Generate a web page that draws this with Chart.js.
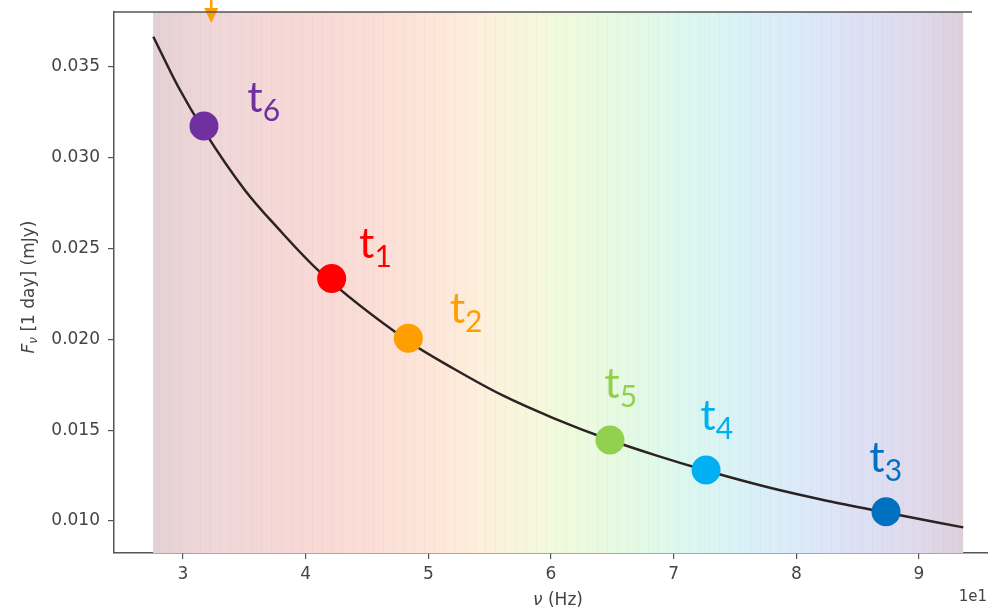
<!DOCTYPE html>
<html>
<head>
<meta charset="utf-8">
<script src="https://cdn.jsdelivr.net/npm/chart.js@4.4.1/dist/chart.umd.min.js"></script>
<style>
    html, body { margin: 0; padding: 0; background: #fff; overflow: hidden; }
    #wrap { width: 988px; height: 611px; }
</style>
</head>
<body>
<div id="wrap"><canvas id="fluxChart" width="988" height="611"></canvas></div>
<script>
// Eğri (okunan noktalar, x birimi 1e1 Hz)
const curveX = [2.758, 2.962, 3.171, 3.505, 3.777, 4.103, 4.837, 5.204, 5.611, 6.019, 6.481, 6.862, 7.264, 7.785, 8.247, 8.731, 9.361];
const curveY = [0.03667, 0.0339, 0.0315, 0.02822, 0.0261, 0.0238, 0.0199, 0.0184, 0.0169, 0.01567, 0.01446, 0.0136, 0.01278, 0.01183, 0.01112, 0.01047, 0.00965];

// Zaman noktaları
const markerNames = ['6', '1', '2', '5', '4', '3'];
const markerX = [3.171, 4.212, 4.837, 6.481, 7.264, 8.731];
const markerY = [0.03175, 0.02336, 0.02006, 0.01446, 0.01281, 0.01051];
const markerColors = ['#7030a0', '#ff0000', '#ff9e00', '#92d050', '#00b0f0', '#0070c0'];

// Eksen değerleri
const xTicks = [3, 4, 5, 6, 7, 8, 9];
const yTicks = [0.010, 0.015, 0.020, 0.025, 0.030, 0.035];

// Gökkuşağı bant renkleri
const bandX = [2.756, 3.14, 4.2, 5.01, 5.42, 5.75, 6.07, 6.56, 7.05, 7.54, 8.03, 8.52, 9.0, 9.36];
const bandColors = ['#e4d0d4', '#eed6d8', '#f9dad6', '#fde5d8', '#fdf0dc', '#f8f6dc', '#f0fadc', '#e6fae2', '#dcf8ee', '#d8f2f6', '#dceafa', '#dde0f4', '#e0daec', '#dcd0da'];

const arrowX = 3.23;

// etiket kaymaları (piksel)
const labelOffsets = [[51, -29], [35, -35], [49, -30], [2, -57], [2, -55], [-9, -55]];

const axisColor = '#555';
const textColor = '#444';

const bandPlugin = {
    id: 'band',
    beforeDatasetsDraw(chart) {
        const {ctx, chartArea, scales} = chart;
        const x0 = scales.x.getPixelForValue(bandX[0]);
        const x1 = scales.x.getPixelForValue(bandX[bandX.length - 1]);
        const grad = ctx.createLinearGradient(x0, 0, x1, 0);
        bandX.forEach((v, i) => {
            grad.addColorStop((v - bandX[0]) / (bandX[bandX.length - 1] - bandX[0]), bandColors[i]);
        });
        ctx.save();
        ctx.fillStyle = grad;
        ctx.fillRect(x0, chartArea.top, x1 - x0, chartArea.bottom - chartArea.top);
        // ince dikey çizgiler
        ctx.strokeStyle = 'rgba(120, 90, 110, 0.045)';
        ctx.lineWidth = 1;
        for (let v = bandX[0] + 0.05; v < bandX[bandX.length - 1]; v += 0.083) {
            const px = Math.round(scales.x.getPixelForValue(v)) + 0.5;
            ctx.beginPath();
            ctx.moveTo(px, chartArea.top);
            ctx.lineTo(px, chartArea.bottom);
            ctx.stroke();
        }
        ctx.restore();
    }
};

const labelPlugin = {
    id: 'labels',
    afterDatasetsDraw(chart) {
        const {ctx, chartArea, scales} = chart;
        ctx.save();
        markerNames.forEach((n, i) => {
            const px = scales.x.getPixelForValue(markerX[i]) + labelOffsets[i][0];
            const py = scales.y.getPixelForValue(markerY[i]) + labelOffsets[i][1];
            ctx.fillStyle = markerColors[i];
            ctx.textBaseline = 'alphabetic';
            ctx.textAlign = 'center';
            ctx.font = '43px Lato';
            ctx.fillText('t', px, py + 15);
            const tw = ctx.measureText('t').width;
            ctx.textAlign = 'left';
            ctx.font = '30px Lato';
            ctx.fillText(n, px + tw / 2, py + 24);
        });

        // üstteki turuncu ok
        const ax = scales.x.getPixelForValue(arrowX);
        ctx.strokeStyle = '#ff9e00';
        ctx.fillStyle = '#ff9e00';
        ctx.lineWidth = 2.5;
        ctx.beginPath();
        ctx.moveTo(ax, 0);
        ctx.lineTo(ax, chartArea.top);
        ctx.stroke();
        ctx.beginPath();
        ctx.moveTo(ax - 7, chartArea.top - 4);
        ctx.lineTo(ax + 7, chartArea.top - 4);
        ctx.lineTo(ax, chartArea.top + 11);
        ctx.closePath();
        ctx.fill();

        // üst çerçeve
        ctx.strokeStyle = axisColor;
        ctx.lineWidth = 1.5;
        ctx.beginPath();
        ctx.moveTo(chartArea.left, chartArea.top);
        ctx.lineTo(chartArea.right - 16, chartArea.top);
        ctx.stroke();

        // ofset metni
        ctx.fillStyle = textColor;
        ctx.font = '15px "DejaVu Sans"';
        ctx.textAlign = 'right';
        ctx.textBaseline = 'middle';
        ctx.fillText('1e1', chart.width - 1, 597);

        // x ekseni başlığı
        ctx.textAlign = 'left';
        const xParts = [['italic 17px "DejaVu Sans"', 'ν'], ['17px "DejaVu Sans"', ' (Hz)']];
        let xw = 0;
        xParts.forEach(p => { ctx.font = p[0]; xw += ctx.measureText(p[1]).width; });
        let xx = 558 - xw / 2;
        xParts.forEach(p => {
            ctx.font = p[0];
            ctx.fillText(p[1], xx, 601);
            xx += ctx.measureText(p[1]).width;
        });

        // y ekseni başlığı
        ctx.translate(30, 287);
        ctx.rotate(-Math.PI / 2);
        ctx.textBaseline = 'middle';
        ctx.textAlign = 'left';
        const parts = [['italic 17px "DejaVu Sans"', 'F', 0], ['italic 12px "DejaVu Sans"', 'ν', 4], ['17px "DejaVu Sans"', ' [1 day] (mJy)', 0]];
        let total = 0;
        parts.forEach(p => { ctx.font = p[0]; total += ctx.measureText(p[1]).width; });
        let cx = -total / 2;
        parts.forEach(p => {
            ctx.font = p[0];
            ctx.fillText(p[1], cx, p[2]);
            cx += ctx.measureText(p[1]).width;
        });
        ctx.restore();
    }
};

function initFluxChart() {
    const ctx = document.getElementById('fluxChart');
    if (!ctx) return;

    new Chart(ctx, {
        type: 'line',
        data: {
            datasets: [{
                type: 'scatter',
                label: 'zamanlar',
                data: markerX.map((x, i) => ({x: x, y: markerY[i]})),
                pointBackgroundColor: markerColors,
                pointBorderWidth: 0,
                pointRadius: 14.5,
                pointHoverRadius: 14.5,
                order: 0
            }, {
                label: 'F_nu',
                data: curveX.map((x, i) => ({x: x, y: curveY[i]})),
                borderColor: '#2b2222',
                borderWidth: 2.5,
                pointRadius: 0,
                cubicInterpolationMode: 'monotone',
                fill: false,
                order: 1
            }]
        },
        options: {
            responsive: false,
            animation: false,
            layout: { autoPadding: false, padding: { top: 12, left: 0, right: 0, bottom: 0 } },
            plugins: {
                legend: { display: false },
                tooltip: { enabled: false }
            },
            scales: {
                x: {
                    type: 'linear',
                    min: 2.4375,
                    max: 9.5625,
                    afterFit: s => { s.height = 58; s.paddingLeft = 0; s.paddingRight = 0; },
                    afterBuildTicks: s => { s.ticks = xTicks.map(v => ({value: v})); },
                    grid: { drawOnChartArea: false, drawTicks: true, tickLength: 6, color: axisColor, lineWidth: 1.2 },
                    border: { display: true, color: axisColor, width: 1.5 },
                    ticks: {
                        color: textColor,
                        padding: 5,
                        font: { family: 'DejaVu Sans', size: 17 },
                        callback: v => String(v)
                    }
                },
                y: {
                    type: 'linear',
                    min: 0.00824,
                    max: 0.03803,
                    afterFit: s => { s.width = 114; s.paddingTop = 0; s.paddingBottom = 0; },
                    afterBuildTicks: s => { s.ticks = yTicks.map(v => ({value: v})); },
                    grid: { drawOnChartArea: false, drawTicks: true, tickLength: 6, color: axisColor, lineWidth: 1.2 },
                    border: { display: true, color: axisColor, width: 1.5 },
                    ticks: {
                        color: textColor,
                        padding: 8,
                        font: { family: 'DejaVu Sans', size: 17 },
                        callback: v => v.toFixed(3)
                    }
                }
            }
        },
        plugins: [bandPlugin, labelPlugin]
    });
}

document.addEventListener('DOMContentLoaded', function() {
    if (typeof Chart !== 'undefined') {
        initFluxChart();
    } else {
        setTimeout(initFluxChart, 500);
    }
});
</script>
</body>
</html>
